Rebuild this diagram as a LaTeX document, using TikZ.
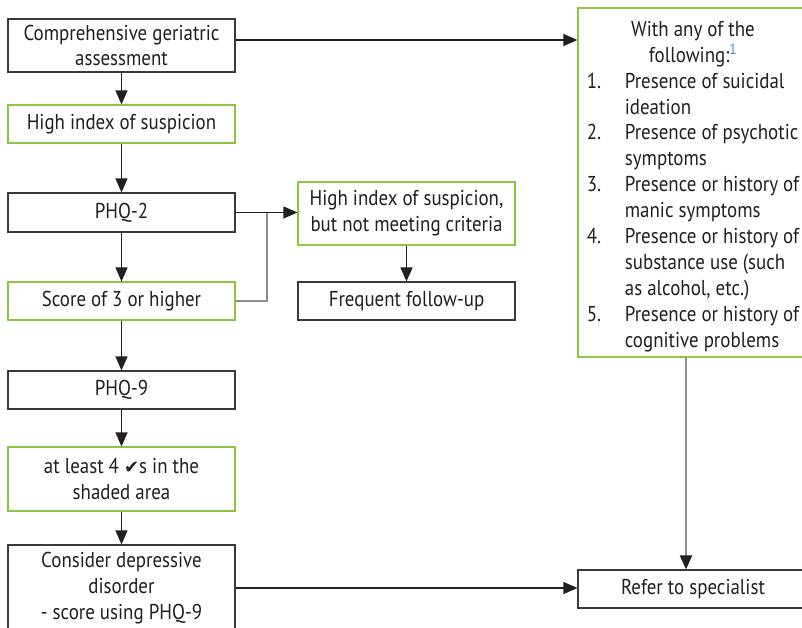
\documentclass[tikz,border=0pt]{standalone}
\usepackage{fontspec}
\setmainfont[FakeStretch=0.88]{PT Sans}
\newfontfamily\checkfont{DejaVu Sans}
\usetikzlibrary{arrows.meta}
\definecolor{ink}{HTML}{231F20}
\definecolor{frame}{HTML}{3A3A3A}
\definecolor{leaf}{HTML}{8CC63F}
\definecolor{wire}{HTML}{8C8C8C}
\definecolor{supblue}{HTML}{3B8FD0}
\begin{document}
\begin{tikzpicture}[x=1pt, y=-1pt,
  font=\fontsize{21.5}{25.9}\selectfont, text=ink,
  box/.style={draw=frame, line width=1.2pt, minimum width=227pt, inner sep=0pt, align=center},
  gbox/.style={box, draw=leaf},
  tip/.style={-{Triangle[length=14pt, width=12pt, color=ink]}},
  arr/.style={draw=ink, line width=1.2pt, tip},
  link/.style={draw=wire, line width=2pt}]
\useasboundingbox (0,0) rectangle (802,627);
\clip (0,0) rectangle (802,627);
\fill[white] (0,0) rectangle (802,627);

% main column
\node[box,  minimum height=53pt] (A) at (121.5,45.5) {Comprehensive geriatric\\assessment};
\node[gbox, minimum height=38pt] (B) at (121.5,124) {High index of suspicion};
\node[box,  minimum height=39pt] (C) at (121.5,212.5) {PHQ-2};
\node[gbox, minimum height=38pt] (D) at (121.5,301) {Score of 3 or higher};
\node[box,  minimum height=38pt] (E) at (121.5,390) {PHQ-9};
\node[gbox, minimum height=64pt] (F) at (121.5,479) {at least 4 {\checkfont\fontsize{18}{20}\selectfont ✔}s in the\\shaded area};
\node[box,  minimum height=86pt] (G) at (121.5,588) {Consider depressive\\disorder\\- score using PHQ-9};

% middle column
\node[gbox, minimum width=217pt, minimum height=63pt] (H) at (406.5,213.5) {High index of suspicion,\\but not meeting criteria};
\node[box,  minimum width=217pt, minimum height=38pt] (I) at (406.5,301) {Frequent follow-up};

% right column: criteria list
\node[gbox, minimum width=230pt, minimum height=349pt] (J) at (693,182.5) {%
\raisebox{-4pt}[\height][\depth]{%
\begin{tabular}{@{}p{38pt}@{}l@{}}
\multicolumn{2}{@{}c@{}}{With any of the}\\
\multicolumn{2}{@{}c@{}}{following:\textcolor{supblue}{\textsuperscript{\fontsize{15}{15}\selectfont 1}}}\\
1. & Presence of suicidal\\
   & ideation\\
2. & Presence of psychotic\\
   & symptoms\\
3. & Presence or history of\\
   & manic symptoms\\
4. & Presence or history of\\
   & substance use (such\\
   & as alcohol, etc.)\\
5. & Presence or history of\\
   & cognitive problems
\end{tabular}}};
\node[box, minimum width=230pt, minimum height=38pt] (K) at (693,589) {Refer to specialist};

% connectors
\coordinate (jn) at (267,212.5);
\draw[link] (D.east) -| (jn);
\draw[arr] (A) -- (B);
\draw[arr] (B) -- (C);
\draw[arr] (C) -- (D);
\draw[arr] (D) -- (E);
\draw[arr] (E) -- (F);
\draw[arr] (F) -- (G);
\draw[arr] (H) -- (I);
\draw[arr] (C.east) -- (C.east -| H.west);
\draw[arr] ([yshift=5.5pt]A.east) -- ([yshift=5.5pt]A.east -| J.west);
\draw[arr] (G.east) -- (G.east -| K.west);
\draw[link, tip] ([xshift=-7pt]J.south) -- ([xshift=-7pt]K.north);
\end{tikzpicture}
\end{document}
